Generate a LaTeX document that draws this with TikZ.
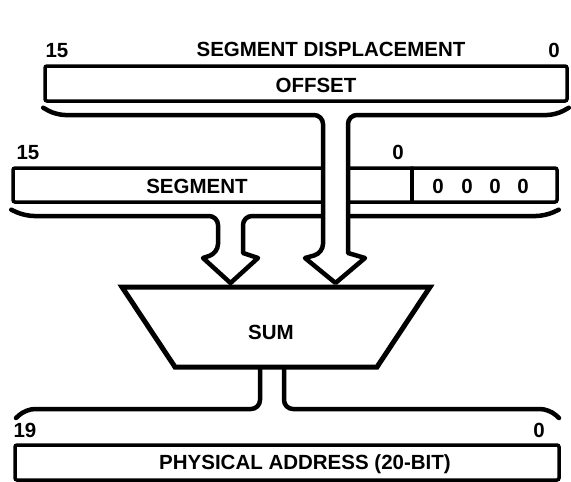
\documentclass[tikz,border=0pt]{standalone}
\usepackage{fontspec}
\setmainfont{Liberation Sans}
\usetikzlibrary{calc}

\tikzset{
  regbox/.style={draw, line width=3.5pt, rounded corners=2pt, inner sep=0pt},
  txt/.style={font=\bfseries\fontsize{20.5}{24}\selectfont, inner sep=0pt, text height=14.7pt, text depth=0pt},
  bus/.style={draw, line width=4.5pt, line join=round, fill=white},
}

\begin{document}
\begin{tikzpicture}[x=1pt, y=-1pt, line cap=round]
  \useasboundingbox (0,0) rectangle (571,482);

  % the three registers
  \node[regbox, minimum width=522pt, minimum height=35pt] (offset) at (306,83.5) {};
  \node[regbox, minimum width=544pt, minimum height=34pt] (segment) at (285,185) {};
  \node[regbox, minimum width=544pt, minimum height=35pt] (phys) at (287,462.5) {};
  \draw[line width=3.5pt] (412,168) -- (412,202);

  % adder
  \coordinate (sumTL) at (122,287);
  \coordinate (sumTR) at (430,287);
  \draw[line width=5pt, line join=miter] (sumTL) -- (sumTR) -- (377,367) -- (175,367) -- cycle;

  % labels
  \node[txt] (offhi) at (57,50) {15};
  \node[txt] (offtitle) at (331,49) {SEGMENT DISPLACEMENT};
  \node[txt] (offlo) at (554,50) {0};
  \node[txt] (offname) at (316,85) {OFFSET};
  \node[txt] (seghi) at (28,152) {15};
  \node[txt] (seglo) at (398,152) {0};
  \node[txt] (segname) at (197,186) {SEGMENT};
  \foreach \i/\x in {1/438,2/467,3/495,4/523}
    \node[txt] (zero\i) at (\x,186) {0};
  \node[txt] (sum) at (271,332) {SUM};
  \node[txt] (physhi) at (25,430) {19};
  \node[txt] (physlo) at (539,430) {0};
  \node[txt] (physname) at (305,462) {PHYSICAL ADDRESS (20-BIT)};

  % segment -> sum
  \draw[bus, rounded corners=9pt] ([yshift=-6pt]segment.south west) -- (25,216) -- (218,216) -- (218,253)
    [sharp corners] -- (203,258) -- (230.5,283) -- (258,258) -- (243,253)
    [rounded corners=9pt] -- (243,216) -- (545,216) -- ([yshift=-6pt]segment.south east);

  % offset -> sum (drawn over the segment register)
  \draw[bus, rounded corners=9pt] ([yshift=-5pt]offset.south west) -- (56,115) -- (323,115) -- (323,253)
    [sharp corners] -- (305,258) -- (335.5,283) -- (365,258) -- (348,253)
    [rounded corners=9pt] -- (348,115) -- (556,115) -- ([yshift=-5pt]offset.south east);

  % sum -> physical address
  \draw[bus, fill=none, rounded corners=9pt] (16,418) -- (26,409) -- (260,409) -- (260,368);
  \draw[bus, fill=none, rounded corners=9pt] (284,368) -- (284,409) -- (549,409) -- (559,418);
\end{tikzpicture}
\end{document}
